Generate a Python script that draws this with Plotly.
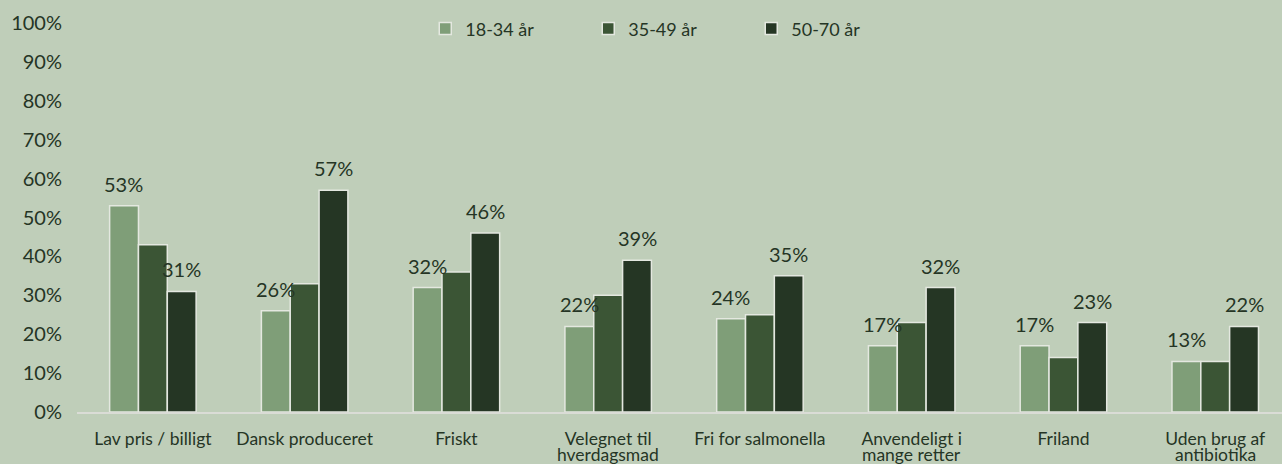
import plotly.graph_objects as go

categories = ["Lav pris / billigt", "Dansk produceret", "Friskt", "Velegnet til hverdagsmad",
              "Fri for salmonella", "Anvendeligt i mange retter", "Friland", "Uden brug af antibiotika"]
# axis labels split over two lines as in the original
label_line1 = ["Lav pris / billigt", "Dansk produceret", "Friskt", "Velegnet til",
               "Fri for salmonella", "Anvendeligt i", "Friland", "Uden brug af"]
label_line2 = ["", "", "", "hverdagsmad", "", "mange retter", "", "antibiotika"]
series_names = ["18-34 år", "35-49 år", "50-70 år"]
age_18_34 = [53, 26, 32, 22, 24, 17, 17, 13]
age_35_49 = [43, 33, 36, 30, 25, 23, 14, 13]
age_50_70 = [31, 57, 46, 39, 35, 32, 23, 22]
y_ticks = [0, 10, 20, 30, 40, 50, 60, 70, 80, 90, 100]

colors = ["#7f9e78", "#3b5535", "#253624"]
bg = "#bfceb9"
text_col = "#253525"
font_family = "Lato, sans-serif"

fig = go.Figure()
for name, vals, col in zip(series_names, [age_18_34, age_35_49, age_50_70], colors):
    fig.add_trace(go.Bar(
        x=categories, y=vals, name=name,
        marker=dict(color=col, line=dict(color="#e4e8e0", width=1.5)),
    ))

# data labels only for youngest and oldest groups
for vals, shift in [(age_18_34, -29), (age_50_70, 29)]:
    for cat, v in zip(categories, vals):
        fig.add_annotation(x=cat, y=v, text=f"{v}%", showarrow=False,
                           xshift=shift, yshift=8, yanchor="bottom",
                           font=dict(size=20, color=text_col, family=font_family))

# second line of the long category labels, placed tight under the first
for cat, line2 in zip(categories, label_line2):
    if line2:
        fig.add_annotation(x=cat, y=0, text=line2, showarrow=False, yanchor="top",
                           yshift=-30, font=dict(size=17.5, color=text_col, family=font_family))

fig.update_layout(
    width=1282, height=464,
    margin=dict(l=77, r=0, t=23, b=52),
    paper_bgcolor=bg, plot_bgcolor=bg,
    barmode="group", bargap=0.43, bargroupgap=0,
    font=dict(family=font_family, size=18, color=text_col),
    legend=dict(orientation="h", x=0.289, xanchor="left", y=0.985, yanchor="middle",
                entrywidth=118, bgcolor="rgba(0,0,0,0)", font=dict(size=18),
                itemwidth=30),
    xaxis=dict(range=[-0.5, 7.44], showgrid=False, showline=True, linecolor="#dadcd6",
               linewidth=2, ticks="", tickfont=dict(size=17.5), automargin=False,
               ticklabelstandoff=10,
               tickmode="array", tickvals=categories, ticktext=label_line1),
    yaxis=dict(range=[0, 100], tickmode="array", tickvals=y_ticks,
               ticktext=[f"{t}%" for t in y_ticks], showgrid=False,
               zeroline=False, showline=False, ticks="", ticklabelstandoff=14,
               tickfont=dict(size=20), automargin=False),
)

fig.write_html("out.html", config={"displayModeBar": False},
               post_script="document.body.style.margin='0';")
